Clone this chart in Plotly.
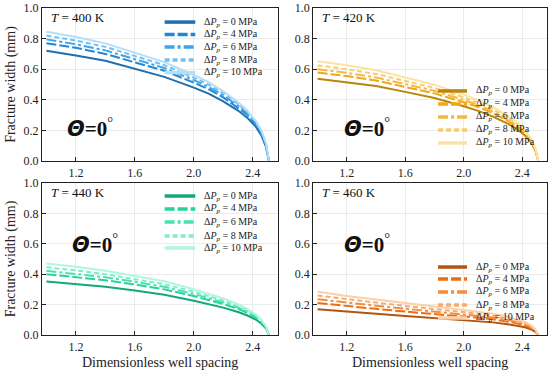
import plotly.graph_objects as go

# ---------------- data ----------------
spacing = [1.0, 1.2, 1.4, 1.6, 1.8, 2.0, 2.1, 2.2, 2.3, 2.36, 2.42, 2.46, 2.49, 2.51]
pressures = [0, 4, 6, 8, 10]
temperatures = [400, 420, 440, 460]
x_ticks = [1.2, 1.6, 2.0, 2.4]
y_ticks = [0.0, 0.2, 0.4, 0.6, 0.8, 1.0]

width_400 = [
    [0.72, 0.69, 0.655, 0.605, 0.55, 0.48, 0.44, 0.39, 0.33, 0.285, 0.225, 0.165, 0.09, 0.0],
    [0.77, 0.74, 0.70, 0.647, 0.59, 0.512, 0.47, 0.416, 0.35, 0.305, 0.24, 0.178, 0.10, 0.0],
    [0.795, 0.763, 0.723, 0.668, 0.608, 0.529, 0.485, 0.43, 0.362, 0.314, 0.247, 0.183, 0.105, 0.0],
    [0.82, 0.787, 0.746, 0.689, 0.627, 0.545, 0.50, 0.443, 0.373, 0.324, 0.255, 0.19, 0.11, 0.0],
    [0.845, 0.811, 0.769, 0.71, 0.646, 0.562, 0.515, 0.456, 0.385, 0.334, 0.262, 0.196, 0.115, 0.0],
]
width_420 = [
    [0.538, 0.516, 0.49, 0.452, 0.412, 0.358, 0.328, 0.29, 0.245, 0.212, 0.167, 0.124, 0.07, 0.0],
    [0.578, 0.555, 0.526, 0.486, 0.442, 0.384, 0.353, 0.312, 0.263, 0.228, 0.179, 0.133, 0.075, 0.0],
    [0.60, 0.576, 0.546, 0.504, 0.459, 0.399, 0.366, 0.324, 0.273, 0.237, 0.186, 0.138, 0.078, 0.0],
    [0.625, 0.60, 0.569, 0.525, 0.478, 0.416, 0.381, 0.338, 0.284, 0.247, 0.194, 0.144, 0.081, 0.0],
    [0.652, 0.626, 0.593, 0.548, 0.499, 0.434, 0.398, 0.352, 0.297, 0.258, 0.202, 0.15, 0.085, 0.0],
]
width_440 = [
    [0.352, 0.336, 0.317, 0.292, 0.264, 0.225, 0.204, 0.18, 0.151, 0.13, 0.102, 0.074, 0.042, 0.0],
    [0.40, 0.382, 0.36, 0.332, 0.30, 0.256, 0.232, 0.204, 0.172, 0.148, 0.116, 0.084, 0.048, 0.0],
    [0.422, 0.403, 0.38, 0.35, 0.317, 0.27, 0.245, 0.215, 0.181, 0.156, 0.122, 0.089, 0.051, 0.0],
    [0.445, 0.425, 0.40, 0.369, 0.334, 0.285, 0.258, 0.227, 0.191, 0.165, 0.129, 0.093, 0.053, 0.0],
    [0.47, 0.449, 0.423, 0.39, 0.353, 0.301, 0.273, 0.24, 0.202, 0.174, 0.136, 0.099, 0.056, 0.0],
]
width_460 = [
    [0.17, 0.153, 0.139, 0.125, 0.112, 0.099, 0.092, 0.083, 0.071, 0.063, 0.051, 0.037, 0.022, 0.0],
    [0.21, 0.189, 0.172, 0.154, 0.139, 0.122, 0.113, 0.103, 0.088, 0.078, 0.063, 0.046, 0.027, 0.0],
    [0.235, 0.212, 0.193, 0.173, 0.155, 0.136, 0.127, 0.115, 0.099, 0.087, 0.071, 0.052, 0.031, 0.0],
    [0.26, 0.234, 0.213, 0.191, 0.172, 0.151, 0.14, 0.127, 0.109, 0.096, 0.078, 0.057, 0.034, 0.0],
    [0.285, 0.257, 0.234, 0.209, 0.188, 0.165, 0.154, 0.14, 0.12, 0.105, 0.086, 0.063, 0.037, 0.0],
]
widths = [width_400, width_420, width_440, width_460]

# ---------------- styles ----------------
palettes = [
    ["#1f6fb0", "#2088d8", "#3fa3ea", "#72c0f2", "#b3dff7"],
    ["#b8860b", "#f0a818", "#f5b93c", "#f8cc6e", "#fbe3a6"],
    ["#12a87a", "#25d39c", "#46e3b2", "#7deecb", "#b2f6e0"],
    ["#b5540f", "#ec6d12", "#f58c3c", "#f7aa6e", "#fbd0a6"],
]
dashes = ["solid", "10px,3px", "10px,3px,3px,3px", "5px,3px", "solid"]

SERIF = "Liberation Serif, Times New Roman, serif"

x_domains = [[0.0, 0.467], [0.537, 1.0], [0.0, 0.467], [0.537, 1.0]]
y_domains = [[0.532, 1.0], [0.532, 1.0], [0.0, 0.465], [0.0, 0.465]]

# legend placement (axis-domain fractions)
leg_x0 = [0.52, 0.534, 0.52, 0.534]
leg_x1 = [0.65, 0.658, 0.65, 0.658]
leg_tx = [0.68, 0.688, 0.68, 0.688]
leg_rows = [
    [0.908, 0.827, 0.745, 0.66, 0.578],
    [0.458, 0.373, 0.288, 0.203, 0.118],
    [0.914, 0.829, 0.743, 0.651, 0.572],
    [0.447, 0.368, 0.283, 0.197, 0.112],
]
theta_pos = [(0.097, 0.216), (0.124, 0.216), (0.119, 0.605), (0.124, 0.605)]

fig = go.Figure()
shapes = []
annotations = []

for i, T in enumerate(temperatures):
    n = "" if i == 0 else str(i + 1)
    xa, ya = "x" + n, "y" + n
    for j, p in enumerate(pressures):
        fig.add_trace(go.Scatter(
            x=spacing, y=widths[i][j], mode="lines",
            line=dict(color=palettes[i][j], width=2, dash=dashes[j]),
            xaxis=xa, yaxis=ya, showlegend=False,
            name=f"ΔPp = {p} MPa",
        ))
        # legend sample
        shapes.append(dict(
            type="line", xref=f"{xa} domain", yref=f"{ya} domain",
            x0=leg_x0[i], x1=leg_x1[i], y0=leg_rows[i][j], y1=leg_rows[i][j],
            line=dict(color=palettes[i][j], width=3.5, dash=dashes[j]),
        ))
        annotations.append(dict(
            xref=f"{xa} domain", yref=f"{ya} domain",
            x=leg_tx[i], y=leg_rows[i][j], xanchor="left", yanchor="middle",
            text=f"Δ<i>P</i><sub><i>p</i></sub> = {p} MPa", showarrow=False,
            font=dict(family=SERIF, size=10, color="#222"),
        ))
    # temperature label
    annotations.append(dict(
        xref=f"{xa} domain", yref=f"{ya} domain", x=0.03, y=0.935,
        xanchor="left", yanchor="middle", showarrow=False,
        text=f"<i>T</i> = {T} K", font=dict(family=SERIF, size=13, color="#111"),
    ))
    # theta label
    tx, ty = theta_pos[i]
    annotations.append(dict(
        xref=f"{xa} domain", yref=f"{ya} domain", x=tx, y=ty,
        xanchor="left", yanchor="middle", showarrow=False,
        text="<span style='font-family:DejaVu Sans'><b><i>Θ</i></b></span><b>=0</b><sup>°</sup>",
        font=dict(family=SERIF, size=21, color="#111"),
    ))
    # x-axis title for bottom panels
    if i >= 2:
        annotations.append(dict(
            xref=f"{xa} domain", yref="paper", x=0.5, y=-0.083,
            xanchor="center", yanchor="middle", showarrow=False,
            text="Dimensionless well spacing",
            font=dict(family=SERIF, size=14, color="#222"),
        ))

    fig.layout["xaxis" + n] = dict(
        domain=x_domains[i], anchor=ya, range=[0.97, 2.57],
        tickvals=x_ticks, ticktext=[f"{v:.1f}" for v in x_ticks],
        ticks="inside", ticklen=4, tickcolor="#222",
        showline=True, linecolor="#222", linewidth=1.2, mirror=True,
        showgrid=True, gridcolor="#ebebeb", gridwidth=1, zeroline=False,
        tickfont=dict(family=SERIF, size=12, color="#222"),
    )
    fig.layout["yaxis" + n] = dict(
        domain=y_domains[i], anchor=xa, range=[0, 1.0],
        tickvals=y_ticks, ticktext=[f"{v:.1f}" for v in y_ticks],
        ticks="inside", ticklen=4, tickcolor="#222",
        showline=True, linecolor="#222", linewidth=1.2, mirror=True,
        showgrid=True, gridcolor="#ebebeb", gridwidth=1, zeroline=False,
        tickfont=dict(family=SERIF, size=12, color="#222"),
        title=dict(text="Fracture width (mm)" if i in (0, 2) else "",
                   font=dict(family=SERIF, size=14, color="#222"), standoff=4),
    )

fig.update_layout(
    width=550, height=373,
    margin=dict(l=42, r=3, t=8, b=38, autoexpand=False),
    paper_bgcolor="white", plot_bgcolor="white",
    shapes=shapes, annotations=annotations,
    showlegend=False,
    font=dict(family=SERIF),
)

fig.write_html(
    "out.html",
    config={"displayModeBar": False},
    post_script="document.body.style.margin='0';document.body.style.overflow='hidden';",
)
